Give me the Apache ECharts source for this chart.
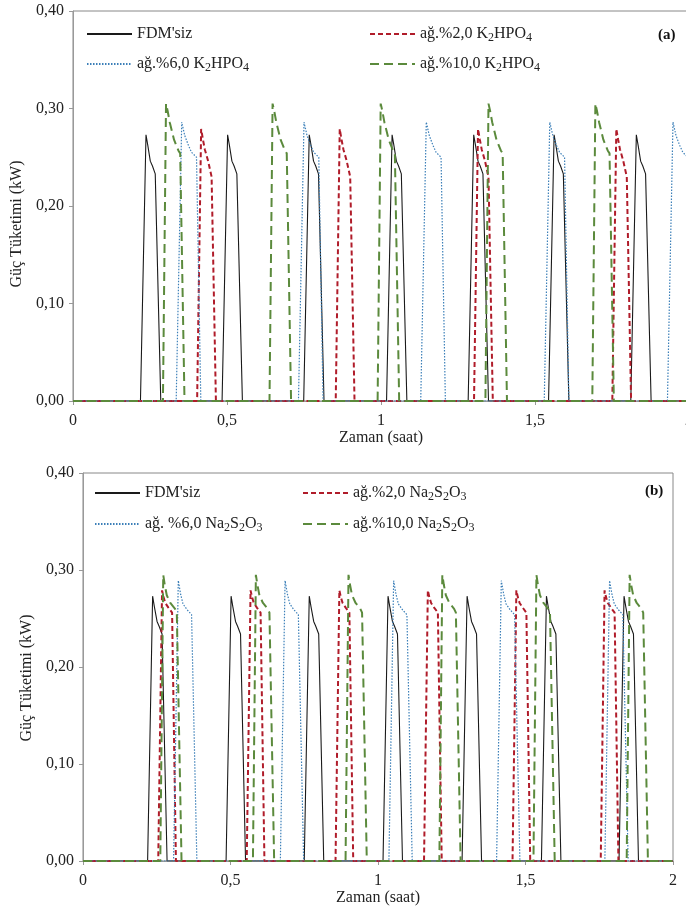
<!DOCTYPE html>
<html>
<head>
<meta charset="utf-8">
<script src="https://cdn.jsdelivr.net/npm/echarts@6/dist/echarts.min.js"></script>
<style>
  html, body { margin: 0; padding: 0; background: #fff; }
  #chart { width: 686px; height: 909px; }
</style>
</head>
<body>
<div id="chart"></div>
<script>
// series names
var namesA = ["FDM'siz", 'ağ.%2,0 K2HPO4', 'ağ.%6,0 K2HPO4', 'ağ.%10,0 K2HPO4'];
var namesB = ["FDM'siz", 'ağ.%2,0 Na2S2O3', 'ağ. %6,0 Na2S2O3', 'ağ.%10,0 Na2S2O3'];
var xTicks = [0, 0.5, 1, 1.5, 2];

// panel (a) - [time (saat), power (kW)]
var aFdm = [[0,0],
  [0.219,0],[0.237,0.273],[0.243,0.262],[0.251,0.246],[0.258,0.241],[0.267,0.233],[0.285,0],
  [0.484,0],[0.502,0.273],[0.508,0.262],[0.516,0.246],[0.523,0.241],[0.532,0.233],[0.550,0],
  [0.749,0],[0.767,0.273],[0.773,0.262],[0.781,0.246],[0.788,0.241],[0.797,0.233],[0.815,0],
  [1.018,0],[1.036,0.273],[1.042,0.262],[1.050,0.246],[1.057,0.241],[1.066,0.233],[1.084,0],
  [1.283,0],[1.301,0.273],[1.307,0.262],[1.315,0.246],[1.322,0.241],[1.331,0.233],[1.349,0],
  [1.544,0],[1.562,0.273],[1.568,0.262],[1.576,0.246],[1.583,0.241],[1.592,0.233],[1.610,0],
  [1.811,0],[1.829,0.273],[1.835,0.262],[1.843,0.246],[1.850,0.241],[1.859,0.233],[1.877,0],
  [2,0]];
var aK2 = [[0,0],
  [0.403,0],[0.416,0.279],[0.422,0.268],[0.428,0.258],[0.438,0.247],[0.450,0.230],[0.464,0],
  [0.853,0],[0.866,0.279],[0.872,0.268],[0.878,0.258],[0.888,0.247],[0.900,0.230],[0.914,0],
  [1.302,0],[1.315,0.279],[1.321,0.268],[1.327,0.258],[1.337,0.247],[1.349,0.230],[1.363,0],
  [1.751,0],[1.764,0.279],[1.770,0.268],[1.776,0.258],[1.786,0.247],[1.798,0.230],[1.812,0],
  [2,0]];
var aK6 = [[0,0],
  [0.335,0],[0.353,0.286],[0.363,0.272],[0.375,0.262],[0.385,0.255],[0.401,0.250],[0.415,0],
  [0.732,0],[0.750,0.286],[0.760,0.272],[0.772,0.262],[0.782,0.255],[0.798,0.250],[0.812,0],
  [1.129,0],[1.147,0.286],[1.157,0.272],[1.169,0.262],[1.179,0.255],[1.195,0.250],[1.209,0],
  [1.530,0],[1.548,0.286],[1.558,0.272],[1.570,0.262],[1.580,0.255],[1.596,0.250],[1.610,0],
  [1.930,0],[1.948,0.286],[1.958,0.272],[1.970,0.262],[1.980,0.255],[1.996,0.250],[2.010,0]];
var aK10 = [[0,0],
  [0.292,0],[0.302,0.305],[0.307,0.298],[0.314,0.286],[0.328,0.268],[0.342,0.257],[0.348,0.254],[0.362,0],
  [0.638,0],[0.648,0.305],[0.653,0.298],[0.660,0.286],[0.674,0.268],[0.688,0.257],[0.694,0.254],[0.708,0],
  [0.989,0],[0.999,0.305],[1.004,0.298],[1.011,0.286],[1.025,0.268],[1.039,0.257],[1.045,0.254],[1.059,0],
  [1.339,0],[1.349,0.305],[1.354,0.298],[1.361,0.286],[1.375,0.268],[1.389,0.257],[1.395,0.254],[1.409,0],
  [1.686,0],[1.696,0.305],[1.701,0.298],[1.708,0.286],[1.722,0.268],[1.736,0.257],[1.742,0.254],[1.756,0],
  [2,0]];

// panel (b)
var bFdm = [[0,0],
  [0.219,0],[0.236,0.273],[0.242,0.262],[0.251,0.247],[0.258,0.242],[0.268,0.234],[0.285,0],
  [0.485,0],[0.502,0.273],[0.508,0.262],[0.517,0.247],[0.524,0.242],[0.534,0.234],[0.551,0],
  [0.750,0],[0.767,0.273],[0.773,0.262],[0.782,0.247],[0.789,0.242],[0.799,0.234],[0.816,0],
  [1.017,0],[1.034,0.273],[1.040,0.262],[1.049,0.247],[1.056,0.242],[1.066,0.234],[1.083,0],
  [1.285,0],[1.302,0.273],[1.308,0.262],[1.317,0.247],[1.324,0.242],[1.334,0.234],[1.351,0],
  [1.554,0],[1.571,0.273],[1.577,0.262],[1.586,0.247],[1.593,0.242],[1.603,0.234],[1.620,0],
  [1.817,0],[1.834,0.273],[1.840,0.262],[1.849,0.247],[1.856,0.242],[1.866,0.234],[1.883,0],
  [2,0]];
var bNa2 = [[0,0],
  [0.255,0],[0.268,0.279],[0.273,0.272],[0.279,0.266],[0.290,0.261],[0.302,0.256],[0.315,0],
  [0.555,0],[0.568,0.279],[0.573,0.272],[0.579,0.266],[0.590,0.261],[0.602,0.256],[0.615,0],
  [0.856,0],[0.869,0.279],[0.874,0.272],[0.880,0.266],[0.891,0.261],[0.903,0.256],[0.916,0],
  [1.156,0],[1.169,0.279],[1.174,0.272],[1.180,0.266],[1.191,0.261],[1.203,0.256],[1.216,0],
  [1.456,0],[1.469,0.279],[1.474,0.272],[1.480,0.266],[1.491,0.261],[1.503,0.256],[1.516,0],
  [1.755,0],[1.768,0.279],[1.773,0.272],[1.779,0.266],[1.790,0.261],[1.802,0.256],[1.815,0],
  [2,0]];
var bNa6 = [[0,0],
  [0.307,0],[0.323,0.289],[0.331,0.275],[0.339,0.265],[0.353,0.259],[0.368,0.254],[0.386,0],
  [0.669,0],[0.685,0.289],[0.693,0.275],[0.701,0.265],[0.715,0.259],[0.730,0.254],[0.748,0],
  [1.037,0],[1.053,0.289],[1.061,0.275],[1.069,0.265],[1.083,0.259],[1.098,0.254],[1.116,0],
  [1.402,0],[1.418,0.289],[1.426,0.275],[1.434,0.265],[1.448,0.259],[1.463,0.254],[1.481,0],
  [1.769,0],[1.785,0.289],[1.793,0.275],[1.801,0.265],[1.815,0.259],[1.830,0.254],[1.848,0],
  [2,0]];
var bNa10 = [[0,0],
  [0.262,0],[0.272,0.295],[0.277,0.285],[0.284,0.274],[0.296,0.266],[0.312,0.260],[0.318,0.256],[0.334,0],
  [0.576,0],[0.586,0.295],[0.591,0.285],[0.598,0.274],[0.610,0.266],[0.626,0.260],[0.632,0.256],[0.648,0],
  [0.890,0],[0.900,0.295],[0.905,0.285],[0.912,0.274],[0.924,0.266],[0.940,0.260],[0.946,0.256],[0.962,0],
  [1.208,0],[1.218,0.295],[1.223,0.285],[1.230,0.274],[1.242,0.266],[1.258,0.260],[1.264,0.256],[1.280,0],
  [1.527,0],[1.537,0.295],[1.542,0.285],[1.549,0.274],[1.561,0.266],[1.577,0.260],[1.583,0.256],[1.599,0],
  [1.843,0],[1.853,0.295],[1.858,0.285],[1.865,0.274],[1.877,0.266],[1.893,0.260],[1.899,0.256],[1.915,0],
  [2,0]];

var font = 'Liberation Serif';
var styles = [
  { color: '#1a1a1a', width: 1.1, type: 'solid' },
  { color: '#b01c2a', width: 2, type: [5, 3] },
  { color: '#3b7fb8', width: 1.2, type: [1.5, 1.5] },
  { color: '#5b8a3c', width: 2, type: [9, 5] }
];

function sub(name) {
  return name.replace(/([A-Za-z])(\d)/g, '$1{s|$2}');
}

function mkLegend(name, left, top) {
  return {
    data: [name], left: left, top: top, orient: 'horizontal',
    itemWidth: 45, itemHeight: 14, itemGap: 0, padding: 0,
    itemStyle: { opacity: 0 },
    formatter: sub,
    textStyle: {
      fontFamily: font, fontSize: 16, color: '#222',
      rich: { s: { fontFamily: font, fontSize: 12, color: '#222', padding: [7, 0, 0, 0] } }
    }
  };
}

function mkX(idx) {
  return {
    gridIndex: idx, type: 'value', min: 0, max: 2, interval: 0.5,
    name: 'Zaman (saat)', nameLocation: 'middle', nameGap: 28,
    nameTextStyle: { fontFamily: font, fontSize: 16, color: '#222' },
    axisLine: { lineStyle: { color: '#999' } },
    axisTick: { length: 4, lineStyle: { color: '#999' } },
    axisLabel: { margin: 12, fontFamily: font, fontSize: 16, color: '#222',
      formatter: function (v) { return String(v).replace('.', ','); } },
    splitLine: { show: false }
  };
}

function mkY(idx, gap, shift) {
  return {
    gridIndex: idx, type: 'value', min: 0, max: 0.4, interval: 0.1,
    name: 'Güç Tüketimi (kW)', nameLocation: 'middle', nameGap: gap,
    nameTextStyle: { fontFamily: font, fontSize: 16, color: '#222', padding: [0, shift, 0, 0] },
    axisLine: { show: true, lineStyle: { color: '#999' } },
    axisTick: { show: true, length: 4, lineStyle: { color: '#999' } },
    axisLabel: { margin: 9, fontFamily: font, fontSize: 16, color: '#222',
      formatter: function (v) { return v.toFixed(2).replace('.', ','); } },
    splitLine: { show: false }
  };
}

function mkSeries(name, data, k, idx) {
  return {
    name: name, type: 'line', data: data, xAxisIndex: idx, yAxisIndex: idx,
    symbol: 'none', animation: false,
    lineStyle: styles[k], itemStyle: { color: styles[k].color }
  };
}

var chart = echarts.init(document.getElementById('chart'));
chart.setOption({
  backgroundColor: '#fff',
  animation: false,
  title: [
    { text: '(a)', left: 653, top: 23, textStyle: { fontFamily: font, fontSize: 15, fontWeight: 'bold', color: '#111' } },
    { text: '(b)', left: 640, top: 479, textStyle: { fontFamily: font, fontSize: 15, fontWeight: 'bold', color: '#111' } }
  ],
  legend: [
    mkLegend(namesA[0], 86, 26), mkLegend(namesA[1], 369, 26),
    mkLegend(namesA[2], 86, 56), mkLegend(namesA[3], 369, 56),
    mkLegend(namesB[0], 94, 485), mkLegend(namesB[1], 302, 485),
    mkLegend(namesB[2], 94, 516), mkLegend(namesB[3], 302, 516)
  ],
  grid: [
    { left: 73, top: 11, right: -3, height: 390, show: true, borderColor: '#888', borderWidth: 1, outerBoundsMode: 'none' },
    { left: 83, top: 473, width: 590, height: 388, show: true, borderColor: '#888', borderWidth: 1, outerBoundsMode: 'none' }
  ],
  xAxis: [mkX(0), mkX(1)],
  yAxis: [mkY(0, 27, 36), mkY(1, 32, 22)],
  series: [
    mkSeries(namesA[0], aFdm, 0, 0),
    mkSeries(namesA[1], aK2, 1, 0),
    mkSeries(namesA[2], aK6, 2, 0),
    mkSeries(namesA[3], aK10, 3, 0),
    mkSeries(namesB[0], bFdm, 0, 1),
    mkSeries(namesB[1], bNa2, 1, 1),
    mkSeries(namesB[2], bNa6, 2, 1),
    mkSeries(namesB[3], bNa10, 3, 1)
  ]
});
</script>
</body>
</html>
